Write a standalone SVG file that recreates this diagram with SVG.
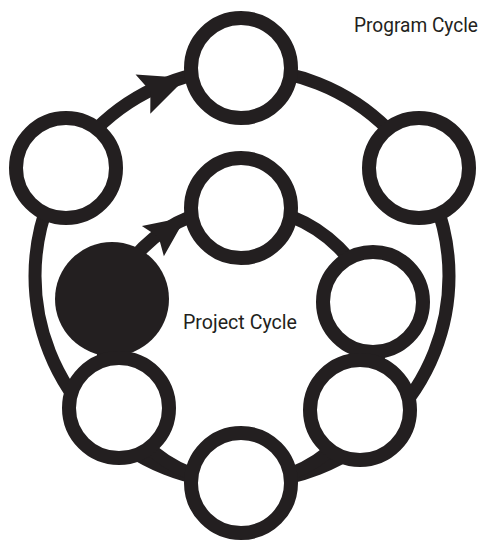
<svg xmlns="http://www.w3.org/2000/svg" width="483" height="540" viewBox="0 0 483 540">
  <defs>
    <style>
      .ring { fill: #ffffff; stroke: #231f20; stroke-width: 14; }
      .solid { fill: #231f20; }
      .cycle { fill: none; stroke: #231f20; stroke-width: 13; }
      .head { fill: #231f20; }
      .lbl { font-family: Roboto, "Liberation Sans", sans-serif; fill: #231f20; }
    </style>
    <polygon id="arrowhead" points="0,0 -46,-21 -38,0 -46,21"/>
  </defs>
  <rect width="483" height="540" fill="#ffffff"/>
  <g id="connectors">
    <circle class="cycle" cx="242" cy="276" r="207"/>
    <circle class="cycle" cx="241" cy="345" r="138"/>
    <use href="#arrowhead" class="head" transform="translate(186,78) rotate(-20.5)"/>
    <use href="#arrowhead" class="head" transform="translate(186,217) rotate(-36) scale(0.89)"/>
  </g>
  <g id="node-program-top"><circle class="ring" cx="241" cy="68" r="50"/></g>
  <g id="node-program-left"><circle class="ring" cx="66" cy="168" r="50"/></g>
  <g id="node-program-right"><circle class="ring" cx="419" cy="168" r="50"/></g>
  <g id="node-project-top"><circle class="ring" cx="241" cy="208" r="50"/></g>
  <g id="node-project-start"><circle class="solid" cx="112" cy="299" r="57"/></g>
  <g id="node-project-right"><circle class="ring" cx="373" cy="302" r="50"/></g>
  <g id="node-lower-right"><circle class="ring" cx="360" cy="410" r="50"/></g>
  <g id="node-lower-left"><circle class="ring" cx="119" cy="408" r="50"/></g>
  <g id="node-bottom"><circle class="ring" cx="241" cy="483" r="50"/></g>
  <g id="labels">
    <text class="lbl" x="354" y="32" font-size="19.5" textLength="124" lengthAdjust="spacingAndGlyphs">Program Cycle</text>
    <text class="lbl" x="183" y="329" font-size="20" textLength="114" lengthAdjust="spacingAndGlyphs">Project Cycle</text>
  </g>
</svg>
